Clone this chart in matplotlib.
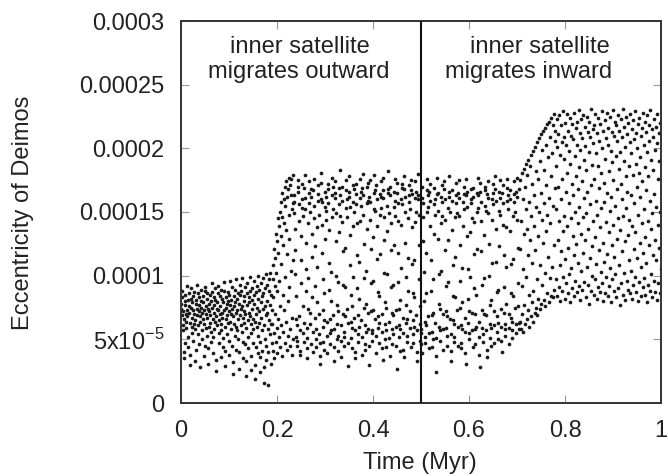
import numpy as np
import matplotlib
matplotlib.use("Agg")
import matplotlib.pyplot as plt

plt.rcParams['font.family'] = ['Liberation Sans', 'DejaVu Sans']

# Eccentricity of Deimos in units of 1e-6, in time order
# segment A: 0 - 0.19 Myr
ecc_a = [
    78, 74, 69, 83, 88, 61, 57, 72, 66, 40, 35, 47, 80, 85, 77, 70, 64, 59, 92, 73, 68, 52, 44, 81, 76, 86, 71, 63, 30, 38,
    75, 82, 90, 67, 60, 55, 79, 84, 73, 49, 62, 70, 87, 65, 58, 33, 42, 78, 81, 74, 69, 93, 86, 61, 54, 46, 72, 77, 83, 68,
    28, 64, 75, 89, 80, 71, 57, 50, 66, 84, 79, 73, 62, 37, 45, 88, 91, 76, 70, 59, 53, 67, 82, 86, 74, 43, 31, 60, 78, 72,
    85, 69, 63, 48, 56, 80, 94, 87, 75, 66, 39, 52, 71, 77, 83, 58, 64, 90, 81, 68, 25, 34, 61, 74, 79, 73, 86, 92, 65, 55,
    47, 70, 84, 76, 62, 36, 57, 89, 82, 71, 67, 51, 44, 79, 88, 95, 73, 60, 29, 41, 66, 75, 83, 78, 69, 54, 63, 87, 80, 72,
    38, 49, 85, 96, 77, 64, 58, 70, 81, 91, 74, 45, 23, 32, 68, 76, 84, 62, 53, 79, 89, 97, 71, 60, 42, 57, 73, 82, 86, 66,
    50, 27, 40, 78, 93, 85, 69, 61, 74, 88, 98, 76, 56, 35, 48, 67, 80, 72, 63, 84, 91, 70, 46, 21, 33, 59, 77, 86, 94, 65,
    52, 43, 71, 83, 79, 68, 99, 88, 62, 37, 26, 55, 74, 81, 90, 66, 58, 47, 85, 96, 78, 64, 30, 19, 44, 70, 87, 92, 75, 60,
    53, 39, 82, 100, 89, 72, 63, 48, 24, 36, 67, 79, 94, 84, 57, 41, 74, 98, 86, 61, 16, 28, 50, 76, 90, 101, 69, 45, 34, 80,
    93, 71, 58, 14, 40, 65, 88, 97, 102, 77, 54, 31, 62, 85, 73, 47,
]
# segment T1: 0.19 - 0.235 Myr (jump after the start of outward migration)
ecc_t1 = [
    62, 97, 41, 108, 83, 55, 121, 35, 92, 114, 70, 48, 133, 102, 59, 127, 39, 88, 145, 66, 118, 52, 139, 96, 150, 44, 76, 131, 158, 61,
    109, 146, 37, 165, 85, 124, 56, 160, 141, 73, 47, 170, 99, 155, 64, 136, 174, 42, 117, 162, 80, 168, 53, 148, 177, 91, 129, 58, 171, 45,
    163, 104, 176, 67, 152, 38, 179, 112, 157, 50,
]
# segment B: 0.235 - 0.5 Myr
ecc_b = [
    163, 158, 149, 137, 120, 101, 84, 66, 52, 45, 49, 61, 170, 166, 175, 156, 143, 68, 57, 41, 38, 94, 112, 131, 160, 172, 153, 147, 76, 55,
    48, 63, 169, 179, 161, 152, 126, 105, 88, 59, 43, 35, 51, 74, 98, 141, 165, 174, 157, 150, 71, 62, 46, 168, 162, 133, 115, 83, 56, 40,
    167, 176, 155, 145, 123, 92, 67, 50, 44, 58, 79, 107, 138, 159, 171, 164, 148, 70, 54, 37, 31, 47, 160, 173, 181, 158, 140, 118, 97, 73,
    60, 48, 42, 65, 86, 129, 154, 166, 162, 151, 144, 64, 53, 39, 172, 168, 157, 136, 110, 89, 66, 55, 46, 57, 80, 103, 146, 163, 177, 170,
    152, 69, 58, 44, 33, 161, 174, 165, 149, 127, 100, 77, 62, 50, 41, 53, 72, 95, 134, 156, 169, 183, 163, 147, 61, 49, 36, 170, 159, 142,
    119, 93, 70, 56, 45, 52, 68, 91, 122, 153, 167, 175, 160, 146, 74, 63, 47, 29, 166, 178, 162, 154, 132, 108, 85, 64, 51, 43, 59, 76,
    99, 139, 158, 171, 168, 150, 67, 57, 40, 35, 164, 172, 156, 141, 116, 90, 69, 54, 48, 60, 82, 111, 143, 161, 176, 166, 155, 65, 52, 38,
    169, 180, 163, 148, 125, 98, 75, 61, 46, 42, 56, 78, 104, 137, 157, 170, 173, 159, 71, 58, 45, 30, 162, 175, 158, 144, 121, 94, 72, 57,
    49, 55, 73, 96, 130, 152, 165, 179, 167, 151, 66, 53, 39, 171, 160, 139, 113, 87, 68, 59, 47, 63, 84, 117, 148, 164, 174, 162, 153, 70,
    56, 43, 34, 167, 177, 161, 146, 128, 102, 79, 62, 50, 44, 57, 75, 101, 135, 155, 168, 182, 165, 149, 64, 51, 37, 170, 163, 141, 120, 91,
    71, 58, 46, 54, 69, 93, 124, 154, 166, 176, 159, 147, 73, 60, 45, 27, 165, 173, 157, 143, 118, 95, 74, 61, 52, 41, 58, 81, 106, 140,
    160, 172, 169, 156, 67, 55, 42, 36, 168, 178, 162, 150, 126, 99, 77, 63, 48, 53, 66, 88, 114, 145, 163, 171, 158, 152, 72, 59, 44, 167,
    175, 164, 138, 109, 86, 65, 54, 47, 60, 83, 112, 142, 161, 174, 166, 150, 69, 57, 40, 33, 163, 180, 160, 148, 124, 97, 76, 62, 49, 55,
]
# segment C: 0.5 - 0.705 Myr
ecc_c = [
    58, 46, 39, 161, 170, 157, 146, 127, 103, 80, 64, 52, 47, 61, 86, 118, 150, 167, 176, 163, 154, 68, 55, 43, 166, 172, 159, 139, 112, 88,
    69, 56, 44, 50, 71, 97, 133, 156, 169, 160, 148, 63, 51, 37, 24, 164, 177, 165, 151, 129, 101, 78, 60, 49, 57, 74, 104, 141, 162, 171,
    158, 147, 70, 58, 42, 168, 174, 160, 144, 120, 92, 72, 59, 45, 53, 68, 95, 128, 153, 166, 178, 162, 150, 66, 54, 41, 33, 167, 159, 136,
    108, 84, 65, 52, 48, 62, 83, 115, 146, 163, 173, 157, 149, 73, 60, 45, 165, 175, 161, 147, 124, 96, 75, 61, 47, 43, 58, 79, 106, 139,
    158, 170, 164, 152, 67, 56, 39, 31, 163, 176, 166, 154, 131, 105, 82, 63, 50, 55, 72, 99, 134, 157, 168, 160, 145, 71, 57, 44, 169, 162,
    142, 117, 90, 70, 58, 46, 60, 85, 121, 150, 165, 177, 163, 153, 64, 52, 38, 28, 166, 173, 158, 143, 119, 93, 73, 59, 48, 54, 70, 98,
    132, 155, 170, 167, 151, 69, 57, 42, 36, 164, 174, 161, 149, 125, 100, 77, 62, 51, 45, 59, 81, 110, 144, 160, 172, 165, 156, 72, 61, 47,
    168, 178, 159, 137, 111, 87, 68, 56, 50, 63, 89, 123, 151, 166, 175, 161, 148, 74, 60, 49, 40, 165, 171, 157, 140, 116, 91, 71, 58, 53,
    62, 78, 107, 138, 159, 169, 176, 163, 152, 70, 59, 46, 167, 160, 135, 109, 86, 67, 57, 51, 64, 84, 113, 147, 164, 174, 158, 150, 75, 62,
    55, 166, 177, 162, 144, 122, 94, 76, 63, 58,
]
# segment T2: 0.705 - 0.78 Myr (jump during inward migration)
ecc_t2 = [
    168, 64, 121, 175, 58, 143, 92, 181, 70, 160, 105, 56, 184, 133, 77, 170, 62, 152, 188, 99, 66, 137, 179, 73, 116, 191, 60, 158, 85, 186,
    128, 68, 195, 147, 79, 172, 110, 64, 198, 88, 163, 139, 71, 201, 120, 182, 75, 154, 97, 205, 69, 176, 131, 82, 208, 150, 74, 190, 108, 165,
    211, 78, 144, 199, 93, 126, 214, 81, 183, 157, 102, 216, 76, 171, 135, 203, 86, 219, 148, 115, 193, 79, 221, 161, 98, 209, 141, 84, 224, 178,
    107, 196, 83, 218, 155, 124, 227, 89, 206, 169,
]
# segment E: 0.78 - 1.0 Myr
ecc_e = [
    214, 97, 186, 152, 223, 84, 201, 128, 170, 211, 91, 143, 226, 108, 195, 80, 218, 160, 119, 205, 88, 176, 229, 135, 99, 209, 147, 192, 82, 220,
    113, 166, 203, 94, 227, 139, 181, 86, 214, 122, 198, 157, 101, 224, 79, 188, 145, 210, 106, 172, 219, 90, 131, 207, 163, 84, 228, 116, 194, 150,
    96, 216, 178, 125, 203, 87, 221, 141, 168, 110, 230, 92, 185, 154, 212, 81, 199, 133, 223, 104, 174, 208, 89, 146, 226, 118, 191, 161, 95, 217,
    128, 202, 83, 183, 149, 225, 107, 166, 213, 93, 137, 197, 78, 221, 156, 114, 209, 171, 88, 231, 123, 187, 100, 215, 143, 204, 85, 176, 218, 130,
    97, 227, 159, 109, 196, 82, 212, 148, 186, 91, 224, 120, 169, 206, 87, 138, 219, 103, 181, 153, 229, 94, 200, 126, 214, 80, 173, 158, 111, 222,
    86, 192, 142, 208, 99, 228, 165, 117, 203, 84, 216, 134, 182, 92, 225, 151, 106, 198, 162, 79, 213, 124, 189, 97, 230, 140, 175, 88, 210, 115,
    221, 155, 101, 194, 83, 218, 168, 129, 206, 90, 226, 145, 184, 108, 214, 77, 197, 136, 172, 94, 223, 119, 209, 160, 85, 231, 147, 190, 102, 217,
    127, 201, 81, 178, 153, 225, 96, 166, 211, 89, 132, 220, 112, 186, 144, 205, 86, 227, 163, 104, 196, 82, 215, 139, 179, 93, 222, 121, 207, 157,
    99, 229, 134, 188, 87, 212, 170, 114, 200, 80, 219, 148, 181, 95, 224, 126, 193, 162, 84, 210, 107, 216, 141, 174, 91, 228, 118, 203, 152, 98,
    221, 130, 185, 85, 213, 167, 110, 197, 79, 226, 143, 178, 93, 218, 124, 206, 159, 88, 230, 137, 191, 101, 215, 149, 83, 209, 116, 183, 164, 96,
    223, 128, 199, 87, 217, 154, 112, 204, 81, 227, 140, 176, 94, 212, 122, 190, 150, 86, 220, 105,
]
segments = [(0.0, 0.19, ecc_a), (0.19, 0.235, ecc_t1), (0.235, 0.5, ecc_b),
            (0.5, 0.705, ecc_c), (0.705, 0.78, ecc_t2), (0.78, 1.0, ecc_e)]

x_ticks = [0, 0.2, 0.4, 0.6, 0.8, 1.0]
x_tick_labels = ['0', '0.2', '0.4', '0.6', '0.8', '1']
y_ticks = [0, 5e-5, 1e-4, 1.5e-4, 2e-4, 2.5e-4, 3e-4]
y_tick_labels = ['0', r'5x10$^{\mathdefault{-5}}$', '0.0001', '0.00015', '0.0002', '0.00025', '0.0003']
switch_time = 0.5

times, eccs = [], []
for t0, t1, vals in segments:
    times.append(np.linspace(t0, t1, len(vals), endpoint=False))
    eccs.append(np.asarray(vals, dtype=float) * 1e-6)
times = np.concatenate(times)
eccs = np.concatenate(eccs)

fig = plt.figure(figsize=(6.68, 4.76), dpi=100)
ax = fig.add_axes([181/668, 1 - 403/476, 480/668, 382/476])

ax.scatter(times, eccs, s=7, color='#1a1a1a', linewidths=0, zorder=2)
ax.axvline(switch_time, color='#111111', lw=1.5, zorder=3)

ax.set_xlim(0, 1)
ax.set_ylim(0, 3e-4)
ax.set_xticks(x_ticks)
ax.set_xticklabels(x_tick_labels)
ax.set_yticks(y_ticks)
ax.set_yticklabels(y_tick_labels)
ax.tick_params(direction='in', length=6, width=0.8, color='#999999',
               top=True, right=True, labelsize=17, labelcolor='#222222')
ax.tick_params(axis='x', pad=12)
ax.tick_params(axis='y', pad=12)
for sp in ax.spines.values():
    sp.set_color('#333333')
    sp.set_linewidth(1.4)

ax.text(0.248, 279.6e-6, 'inner satellite', ha='center', va='center', fontsize=17, color='#222222')
ax.text(0.246, 260e-6, 'migrates outward', ha='center', va='center', fontsize=17, color='#222222')
ax.text(0.748, 279.6e-6, 'inner satellite', ha='center', va='center', fontsize=17, color='#222222')
ax.text(0.725, 260e-6, 'migrates inward', ha='center', va='center', fontsize=17, color='#222222')

fig.text(420/668, 1 - 463/476, 'Time (Myr)', ha='center', va='center', fontsize=17, color='#222222')
fig.text(23/668, 1 - 213/476, 'Eccentricity of Deimos', ha='center', va='center',
         rotation=90, fontsize=17, color='#222222')

fig.savefig('out.png', dpi=100)
